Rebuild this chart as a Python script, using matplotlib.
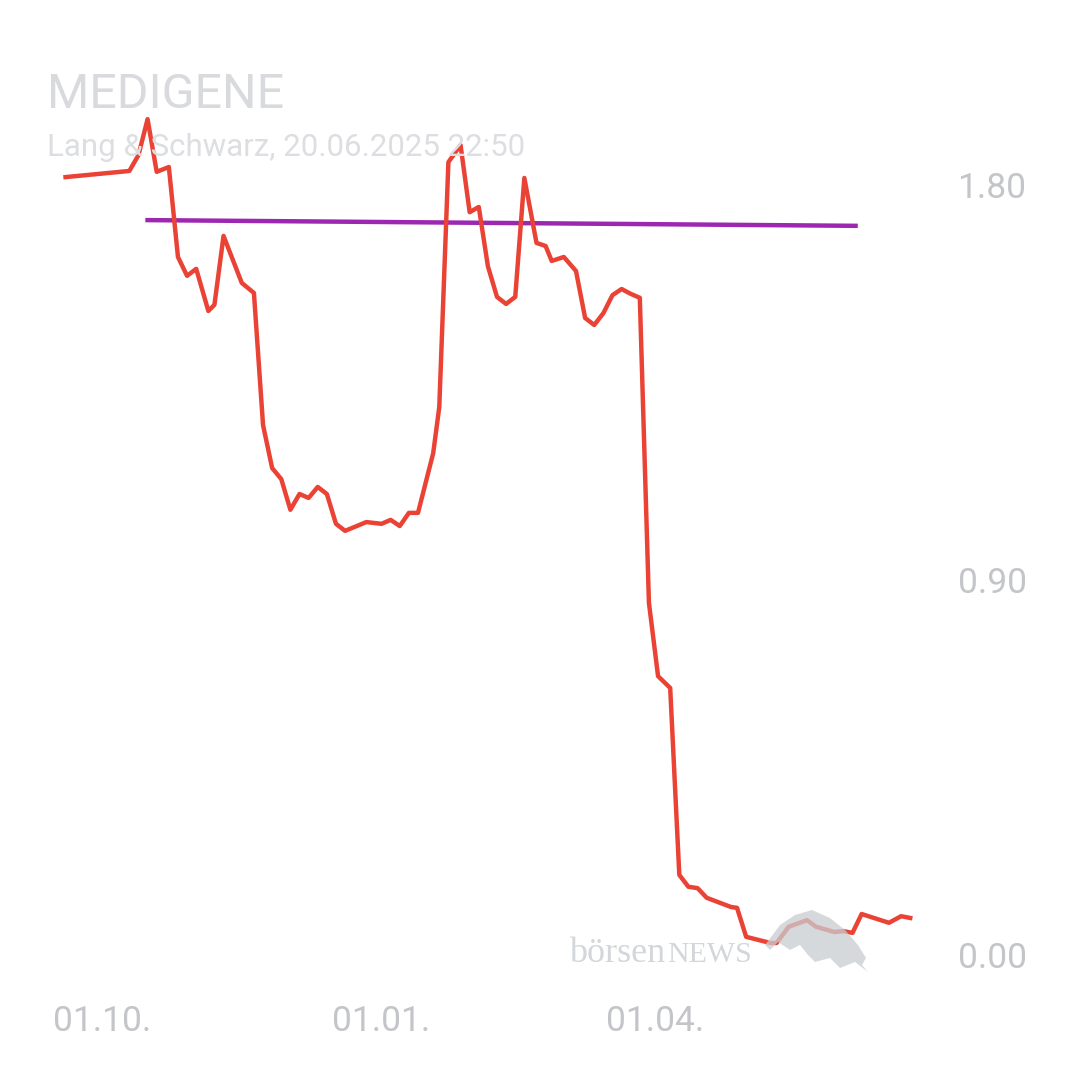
import matplotlib
matplotlib.use("Agg")
import matplotlib.pyplot as plt
from matplotlib.transforms import ScaledTranslation
import pandas as pd

# MEDIGENE, Lang & Schwarz quotes
dates = [
    "2024-09-19", "2024-10-10", "2024-10-13", "2024-10-16", "2024-10-19", "2024-10-23",
    "2024-10-26", "2024-10-29", "2024-11-01", "2024-11-05", "2024-11-07", "2024-11-10",
    "2024-11-16", "2024-11-20", "2024-11-23", "2024-11-26", "2024-11-29", "2024-12-02",
    "2024-12-05", "2024-12-08", "2024-12-11", "2024-12-14", "2024-12-17", "2024-12-20",
    "2024-12-27", "2025-01-01", "2025-01-04", "2025-01-07", "2025-01-10", "2025-01-13",
    "2025-01-18", "2025-01-20", "2025-01-23", "2025-01-27", "2025-01-30", "2025-02-02",
    "2025-02-05", "2025-02-08", "2025-02-11", "2025-02-14", "2025-02-17", "2025-02-21",
    "2025-02-24", "2025-02-26", "2025-03-02", "2025-03-06", "2025-03-09", "2025-03-12",
    "2025-03-15", "2025-03-18", "2025-03-21", "2025-03-24", "2025-03-27", "2025-03-30",
    "2025-04-02", "2025-04-06", "2025-04-09", "2025-04-12", "2025-04-15", "2025-04-18",
    "2025-04-26", "2025-04-28", "2025-05-01", "2025-05-09", "2025-05-11", "2025-05-15",
    "2025-05-21", "2025-05-24", "2025-05-30", "2025-06-02", "2025-06-05", "2025-06-08",
    "2025-06-17", "2025-06-21", "2025-06-24",
]
prices = [
    1.818, 1.832, 1.868, 1.950, 1.830, 1.841,
    1.636, 1.593, 1.609, 1.513, 1.527, 1.684,
    1.577, 1.554, 1.253, 1.155, 1.130, 1.060,
    1.096, 1.087, 1.112, 1.096, 1.028, 1.012,
    1.032, 1.028, 1.037, 1.023, 1.053, 1.053,
    1.189, 1.294, 1.852, 1.891, 1.738, 1.750,
    1.615, 1.545, 1.529, 1.545, 1.816, 1.668,
    1.661, 1.627, 1.636, 1.604, 1.497, 1.481,
    1.508, 1.549, 1.563, 1.552, 1.543, 0.848,
    0.681, 0.654, 0.228, 0.201, 0.198, 0.176,
    0.155, 0.153, 0.087, 0.073, 0.073, 0.110,
    0.125, 0.110, 0.098, 0.100, 0.096, 0.139,
    0.119, 0.134, 0.130,
]

# average line
avg_dates = ["2024-10-16", "2025-06-06"]
avg_values = [1.720, 1.707]

y_ticks = [0.0, 0.9, 1.8]
y_labels = ["0.00", "0.90", "1.80"]
x_ticks = ["2024-10-01", "2025-01-01", "2025-04-01"]
x_labels = ["01.10.", "01.01.", "01.04."]

title = "MEDIGENE"
subtitle = "Lang & Schwarz, 20.06.2025 22:50"

plt.rcParams["font.family"] = ["Roboto", "DejaVu Sans"]

fig = plt.figure(figsize=(10.8, 10.8), dpi=100)
# axes box in pixels: x 0..945, y 0..990 (from top)
ax = fig.add_axes([0, 90 / 1080, 945 / 1080, 990 / 1080])

d = pd.to_datetime(dates)
ax.plot(d, prices, color="#ea4335", lw=3.2, zorder=3)
ax.plot(pd.to_datetime(avg_dates), avg_values, color="#9c27b0", lw=3.2, zorder=2)

origin = pd.Timestamp("2024-10-01")
px_per_day = 3.0385
ax.set_xlim(origin - pd.Timedelta(days=102 / px_per_day),
            origin + pd.Timedelta(days=(945 - 102) / px_per_day))
px_per_unit = 438.9
ax.set_ylim(1.80 - 805 / px_per_unit, 1.80 + 185 / px_per_unit)

ax.set_xticks(pd.to_datetime(x_ticks))
ax.set_xticklabels(x_labels)
ax.set_yticks(y_ticks)
ax.set_yticklabels(y_labels)
ax.yaxis.tick_right()
ax.tick_params(axis="both", length=0, labelsize=25.5, labelcolor="#c3c5c9")
ax.tick_params(axis="x", pad=11)
ax.tick_params(axis="y", pad=9)
for s in ax.spines.values():
    s.set_visible(False)
ax.patch.set_alpha(0)

# bottom label sits a bit above its level
lab0 = ax.yaxis.get_major_ticks()[0].label2
lab0.set_transform(lab0.get_transform() + ScaledTranslation(0, 0.2, fig.dpi_scale_trans))

fig.text(47 / 1080, 1 - 95 / 1080, title, fontsize=34.8, color="#d8dadd", va="center", ha="left")
fig.text(47 / 1080, 1 - 147 / 1080, subtitle, fontsize=22.5, color="#dcdee1", va="center", ha="left")

# watermark
fig.text(569 / 1080, 1 - 962 / 1080, "börsen", fontsize=26, family="Liberation Serif",
         color="#d3d6da", va="baseline", ha="left", zorder=5)
fig.text(667 / 1080, 1 - 962 / 1080, "NEWS", fontsize=21.5, family="Liberation Serif",
         color="#d3d6da", va="baseline", ha="left", zorder=5)
bull_x = [765, 780, 795, 812, 830, 845, 858, 866, 862, 868, 855, 840, 830, 815, 808, 800, 790, 778, 770]
bull_y = [945, 925, 915, 910, 918, 930, 945, 958, 965, 972, 962, 968, 958, 962, 955, 945, 950, 942, 950]
fig.patches.append(plt.Polygon([(x / 1080, 1 - y / 1080) for x, y in zip(bull_x, bull_y)],
                               closed=True, transform=fig.transFigure, facecolor="#c9cdd1",
                               alpha=0.75, edgecolor="none", zorder=5))

fig.savefig("out.png", dpi=100)
